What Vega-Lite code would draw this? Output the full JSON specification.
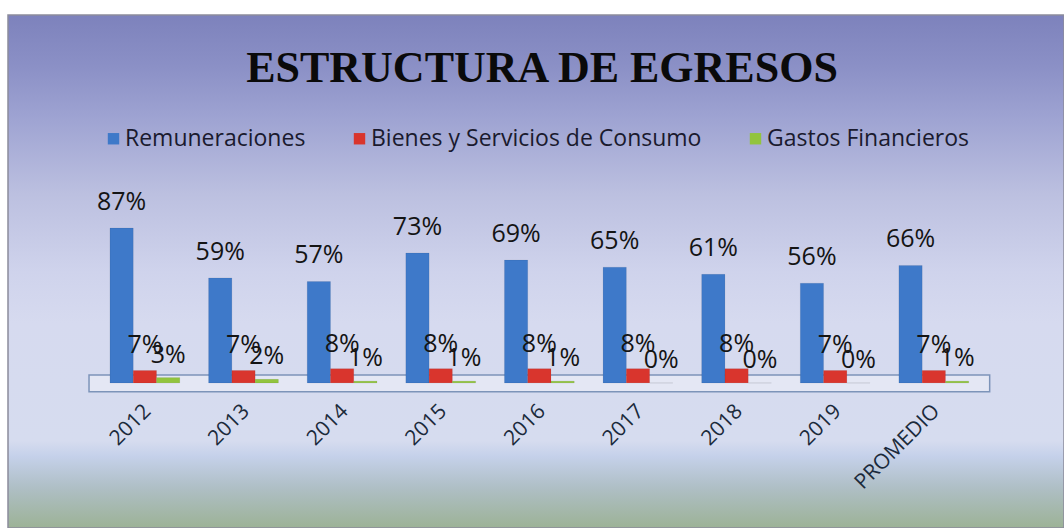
{
  "$schema": "https://vega.github.io/schema/vega-lite/v6.json",
  "autosize": "none",
  "width": 1056,
  "height": 513,
  "padding": {"left": 8, "top": 15, "right": 0, "bottom": 0},
  "background": "#ffffff",
  "title": {
    "text": "ESTRUCTURA DE EGRESOS",
    "font": "Liberation Serif",
    "fontWeight": "bold",
    "fontSize": 44,
    "color": "#0a0a0a",
    "anchor": "middle",
    "frame": "group",
    "baseline": "alphabetic",
    "offset": -111,
    "dx": 6
  },
  "config": {
    "view": {
      "stroke": "#8c8c9c",
      "strokeWidth": 1.5,
      "fill": {
        "gradient": "linear",
        "x1": 0, "y1": 0, "x2": 0, "y2": 1,
        "stops": [
          {"offset": 0, "color": "#7d82bc"},
          {"offset": 0.1, "color": "#8b90c6"},
          {"offset": 0.2, "color": "#9ea3d2"},
          {"offset": 0.35, "color": "#bcc0e0"},
          {"offset": 0.5, "color": "#cfd3ec"},
          {"offset": 0.6, "color": "#d6daef"},
          {"offset": 0.83, "color": "#d6dcef"},
          {"offset": 0.86, "color": "#c5d1ea"},
          {"offset": 0.92, "color": "#afbfc6"},
          {"offset": 1, "color": "#9cb296"}
        ]
      }
    },
    "text": {"font": "Open Sans", "fontSize": 25, "color": "#141414"}
  },
  "data": {
    "values": [
      {"cat": "2012", "serie": "Remuneraciones", "v": 0.87},
      {"cat": "2012", "serie": "Bienes y Servicios de Consumo", "v": 0.07},
      {"cat": "2012", "serie": "Gastos Financieros", "v": 0.03},
      {"cat": "2013", "serie": "Remuneraciones", "v": 0.59},
      {"cat": "2013", "serie": "Bienes y Servicios de Consumo", "v": 0.07},
      {"cat": "2013", "serie": "Gastos Financieros", "v": 0.02},
      {"cat": "2014", "serie": "Remuneraciones", "v": 0.57},
      {"cat": "2014", "serie": "Bienes y Servicios de Consumo", "v": 0.08},
      {"cat": "2014", "serie": "Gastos Financieros", "v": 0.01},
      {"cat": "2015", "serie": "Remuneraciones", "v": 0.73},
      {"cat": "2015", "serie": "Bienes y Servicios de Consumo", "v": 0.08},
      {"cat": "2015", "serie": "Gastos Financieros", "v": 0.01},
      {"cat": "2016", "serie": "Remuneraciones", "v": 0.69},
      {"cat": "2016", "serie": "Bienes y Servicios de Consumo", "v": 0.08},
      {"cat": "2016", "serie": "Gastos Financieros", "v": 0.01},
      {"cat": "2017", "serie": "Remuneraciones", "v": 0.65},
      {"cat": "2017", "serie": "Bienes y Servicios de Consumo", "v": 0.08},
      {"cat": "2017", "serie": "Gastos Financieros", "v": 0.0},
      {"cat": "2018", "serie": "Remuneraciones", "v": 0.61},
      {"cat": "2018", "serie": "Bienes y Servicios de Consumo", "v": 0.08},
      {"cat": "2018", "serie": "Gastos Financieros", "v": 0.0},
      {"cat": "2019", "serie": "Remuneraciones", "v": 0.56},
      {"cat": "2019", "serie": "Bienes y Servicios de Consumo", "v": 0.07},
      {"cat": "2019", "serie": "Gastos Financieros", "v": 0.0},
      {"cat": "PROMEDIO", "serie": "Remuneraciones", "v": 0.66},
      {"cat": "PROMEDIO", "serie": "Bienes y Servicios de Consumo", "v": 0.07},
      {"cat": "PROMEDIO", "serie": "Gastos Financieros", "v": 0.01}
    ]
  },
  "layer": [
    {
      "data": {"values": [{"a": 1}]},
      "mark": {"type": "rect", "fill": "#e4e7f4", "stroke": "#7d94b9", "strokeWidth": 1.5},
      "encoding": {
        "x": {"datum": "2012", "type": "nominal", "bandPosition": -0.3},
        "x2": {"datum": "PROMEDIO", "bandPosition": 1.3},
        "y": {"datum": 0.045, "type": "quantitative"},
        "y2": {"datum": -0.05}
      }
    },
    {
      "mark": {"type": "bar", "stroke": "#00000022", "strokeWidth": 0.5},
      "encoding": {
        "x": {"field": "cat", "type": "nominal"},
        "xOffset": {"field": "serie", "type": "nominal", "scale": {"domain": ["Remuneraciones", "Bienes y Servicios de Consumo", "Gastos Financieros"], "paddingInner": 0, "paddingOuter": 0}},
        "y": {"field": "v", "type": "quantitative"},
        "color": {
          "field": "serie",
          "type": "nominal",
          "scale": {"domain": ["Remuneraciones", "Bienes y Servicios de Consumo", "Gastos Financieros"], "range": ["#3e79c9", "#d9352d", "#92c43e"]},
          "legend": {
            "title": null,
            "orient": "none",
            "legendX": 94,
            "legendY": 112,
            "direction": "horizontal",
            "symbolType": "square",
            "symbolSize": 130,
            "symbolStrokeWidth": 0,
            "labelFont": "Open Sans",
            "labelFontSize": 23,
            "labelColor": "#1a1a2e",
            "labelLimit": 500,
            "columnPadding": 42,
            "labelOffset": 0,
            "padding": 0
          }
        }
      }
    },
    {
      "transform": [{"filter": "datum.serie === 'Remuneraciones'"}],
      "mark": {"type": "text", "baseline": "alphabetic", "dy": -18},
      "encoding": {
        "x": {"field": "cat", "type": "nominal"},
        "xOffset": {"field": "serie", "type": "nominal", "scale": {"domain": ["Remuneraciones", "Bienes y Servicios de Consumo", "Gastos Financieros"]}},
        "y": {"field": "v", "type": "quantitative"},
        "text": {"field": "v", "type": "quantitative", "format": ".0%"}
      }
    },
    {
      "transform": [{"filter": "datum.serie === 'Bienes y Servicios de Consumo'"}],
      "mark": {"type": "text", "baseline": "alphabetic", "dy": -17},
      "encoding": {
        "x": {"field": "cat", "type": "nominal"},
        "xOffset": {"field": "serie", "type": "nominal", "scale": {"domain": ["Remuneraciones", "Bienes y Servicios de Consumo", "Gastos Financieros"]}},
        "y": {"field": "v", "type": "quantitative"},
        "text": {"field": "v", "type": "quantitative", "format": ".0%"}
      }
    },
    {
      "transform": [{"filter": "datum.serie === 'Gastos Financieros'"}],
      "mark": {"type": "text", "baseline": "alphabetic", "dy": -15},
      "encoding": {
        "x": {"field": "cat", "type": "nominal"},
        "xOffset": {"field": "serie", "type": "nominal", "scale": {"domain": ["Remuneraciones", "Bienes y Servicios de Consumo", "Gastos Financieros"]}},
        "y": {"field": "v", "type": "quantitative"},
        "text": {"field": "v", "type": "quantitative", "format": ".0%"}
      }
    }
  ],
  "encoding": {
    "x": {
      "type": "nominal",
      "scale": {"domain": ["2012", "2013", "2014", "2015", "2016", "2017", "2018", "2019", "PROMEDIO"], "paddingInner": 0.292, "paddingOuter": 1.061, "align": 0.517},
      "axis": {
        "title": null,
        "labelAngle": -45,
        "labelFont": "Open Sans",
        "labelFontSize": 21,
        "labelColor": "#1b2a3b",
        "domain": false,
        "ticks": false,
        "grid": false,
        "offset": -136,
        "labelPadding": 8,
        "labelOffset": -5
      }
    },
    "y": {
      "type": "quantitative",
      "scale": {"domain": [-0.815, 2.067], "nice": false, "zero": false},
      "axis": null
    }
  }
}
